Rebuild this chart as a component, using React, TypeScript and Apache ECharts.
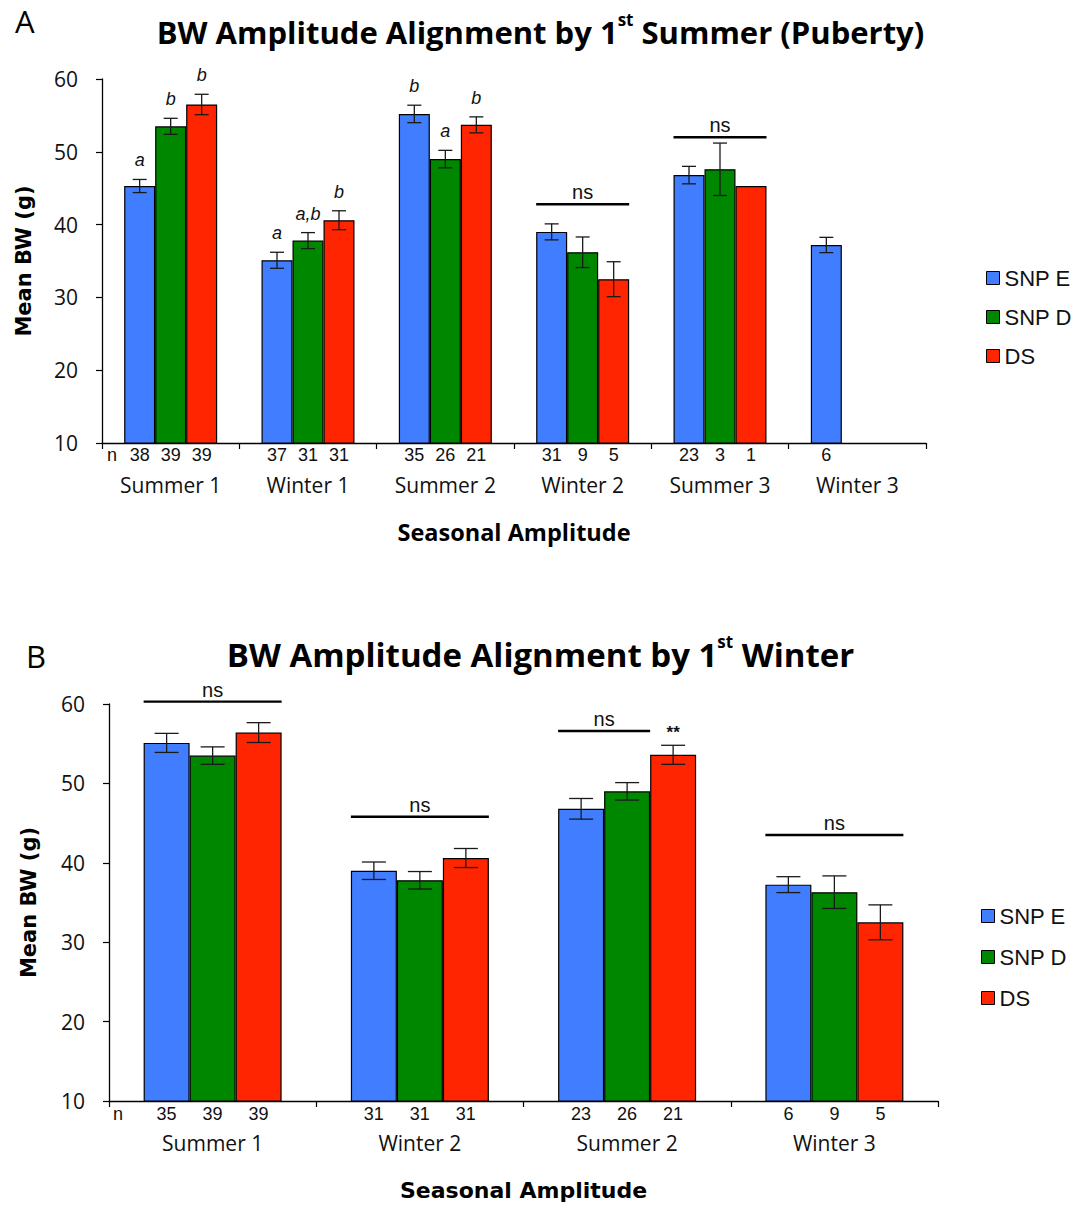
import React, { useEffect, useRef } from "react";
import * as echarts from "echarts";

// ---------- shared ----------
const GROUPS = ["SNP E", "SNP D", "DS"];
const GROUP_COLORS = ["#407eff", "#008700", "#ff2500"];
const Y_MIN = 10;
const Y_MAX = 60;
const Y_STEP = 10;
const X_AXIS_TITLE = "Seasonal Amplitude";
const Y_AXIS_TITLE = "Mean BW (g)";

// ---------- panel A ----------
const A_CATEGORIES = ["Summer 1", "Winter 1", "Summer 2", "Winter 2", "Summer 3", "Winter 3"];
const A_SNP_E = [45.3, 35.1, 55.2, 39.0, 46.8, 37.2];
const A_SNP_D = [53.5, 37.8, 49.0, 36.2, 47.6, null];
const A_DS = [56.5, 40.6, 53.7, 32.5, 45.3, null];
const A_SNP_E_SEM = [0.9, 1.1, 1.2, 1.1, 1.2, 1.05];
const A_SNP_D_SEM = [1.1, 1.1, 1.2, 2.1, 3.6, null];
const A_DS_SEM = [1.4, 1.3, 1.1, 2.4, null, null];
const A_SNP_E_N = [38, 37, 35, 31, 23, 6];
const A_SNP_D_N = [39, 31, 26, 9, 3, null];
const A_DS_N = [39, 31, 21, 5, 1, null];
const A_SNP_E_SIG = ["a", "a", "b", "", "", ""];
const A_SNP_D_SIG = ["b", "a,b", "a", "", "", ""];
const A_DS_SIG = ["b", "b", "b", "", "", ""];
const A_NS_CATEGORY = [3, 4];
const A_NS_LEVEL = [42.8, 52.0];
const A_NS_FIRST_BAR = [0, 0];
const A_NS_LAST_BAR = [2, 2];

// ---------- panel B ----------
const B_CATEGORIES = ["Summer 1", "Winter 2", "Summer 2", "Winter 3"];
const B_SNP_E = [55.1, 39.0, 46.8, 37.25];
const B_SNP_D = [53.5, 37.8, 49.0, 36.3];
const B_DS = [56.4, 40.6, 53.6, 32.5];
const B_SNP_E_SEM = [1.2, 1.1, 1.3, 1.0];
const B_SNP_D_SEM = [1.1, 1.1, 1.1, 2.05];
const B_DS_SEM = [1.25, 1.2, 1.2, 2.2];
const B_SNP_E_N = [35, 31, 23, 6];
const B_SNP_D_N = [39, 31, 26, 9];
const B_DS_N = [39, 31, 21, 5];
const B_SNP_E_SIG = ["", "", "", ""];
const B_SNP_D_SIG = ["", "", "", ""];
const B_DS_SIG = ["", "", "**", ""];
const B_NS_CATEGORY = [0, 1, 2, 3];
const B_NS_LEVEL = [60.3, 45.8, 56.6, 43.5];
const B_NS_FIRST_BAR = [0, 0, 0, 0];
const B_NS_LAST_BAR = [2, 2, 1, 2];

const INK = "#111";
const ARIAL = "'Liberation Sans', Arial, sans-serif";
const CAL = "'Open Sans', sans-serif";
const BOLD_SANS = "'DejaVu Sans', sans-serif";

type Panel = {
  grid: number;
  values: (number | null)[][];
  sems: (number | null)[][];
  ns: (number | null)[][];
  sigs: string[][];
  nsCat: number[];
  nsLevel: number[];
  nsFirst: number[];
  nsLast: number[];
  barWidth: number;
  capHalf: number;
  nOffset: number;
  nLabelInset: number;
};

function panelSeries(p: Panel): any[] {
  const out: any[] = [];
  const bw = p.barWidth;
  for (let k = 0; k < 3; k++) {
    out.push({
      type: "bar",
      name: GROUPS[k],
      xAxisIndex: p.grid,
      yAxisIndex: p.grid,
      data: p.values[k].map((v) => (v == null ? "-" : v)),
      barWidth: bw,
      barGap: "0%",
      itemStyle: { color: GROUP_COLORS[k], borderColor: "#000", borderWidth: 1.2 },
      emphasis: { disabled: true },
      z: 2,
    });
  }
  for (let k = 0; k < 3; k++) {
    const idx: number[] = [];
    p.values[k].forEach((v, i) => {
      if (v != null) idx.push(i);
    });
    const data = idx.map((i) => [i, p.values[k][i], p.sems[k][i] == null ? 0 : p.sems[k][i]]);
    out.push({
      type: "custom",
      xAxisIndex: p.grid,
      yAxisIndex: p.grid,
      clip: false,
      z: 4,
      silent: true,
      data,
      renderItem: (params: any, api: any) => {
        const i = api.value(0);
        const v = api.value(1);
        const e = api.value(2);
        const c = api.coord([i, v]);
        const x = c[0] + (k - 1) * bw;
        const axisY = api.coord([i, Y_MIN])[1];
        const children: any[] = [];
        let topY = c[1];
        if (e > 0) {
          const yHi = api.coord([i, v + e])[1];
          const yLo = api.coord([i, v - e])[1];
          topY = yHi;
          const ls = { stroke: "#1a1a1a", lineWidth: 1.3 };
          children.push({ type: "line", shape: { x1: x, y1: yHi, x2: x, y2: yLo }, style: ls });
          children.push({ type: "line", shape: { x1: x - p.capHalf, y1: yHi, x2: x + p.capHalf, y2: yHi }, style: ls });
          children.push({ type: "line", shape: { x1: x - p.capHalf, y1: yLo, x2: x + p.capHalf, y2: yLo }, style: ls });
        }
        const di = idx[params.dataIndex];
        const sig = p.sigs[k][di];
        if (sig) {
          const star = sig.indexOf("*") >= 0;
          children.push({
            type: "text",
            x,
            y: topY - (star ? 4 : 10),
            style: {
              text: sig,
              fill: INK,
              fontFamily: ARIAL,
              fontSize: star ? 17 : 18,
              fontStyle: star ? "normal" : "italic",
              fontWeight: star ? "bold" : "normal",
              align: "center",
              verticalAlign: "bottom",
            },
          });
        }
        const n = p.ns[k][di];
        if (n != null) {
          children.push({
            type: "text",
            x,
            y: axisY + p.nOffset,
            style: { text: String(n), fill: INK, fontFamily: ARIAL, fontSize: 18, align: "center", verticalAlign: "middle" },
          });
        }
        if (k === 0 && params.dataIndex === 0) {
          const catW = api.size([1, 0])[0];
          children.push({
            type: "text",
            x: c[0] - catW / 2 + p.nLabelInset,
            y: axisY + p.nOffset,
            style: { text: "n", fill: INK, fontFamily: ARIAL, fontSize: 18, align: "center", verticalAlign: "middle" },
          });
        }
        return { type: "group", children };
      },
    });
  }
  out.push({
    type: "custom",
    xAxisIndex: p.grid,
    yAxisIndex: p.grid,
    clip: false,
    z: 4,
    silent: true,
    data: p.nsCat.map((c, j) => [c, p.nsLevel[j], p.nsFirst[j], p.nsLast[j]]),
    renderItem: (_params: any, api: any) => {
      const c = api.coord([api.value(0), api.value(1)]);
      const x0 = c[0] + (api.value(2) - 1.5) * bw;
      const x1 = c[0] + (api.value(3) - 0.5) * bw;
      return {
        type: "group",
        children: [
          { type: "line", shape: { x1: x0, y1: c[1], x2: x1, y2: c[1] }, style: { stroke: "#000", lineWidth: 2.4 } },
          {
            type: "text",
            x: (x0 + x1) / 2,
            y: c[1] - 12,
            style: { text: "ns", fill: INK, fontFamily: ARIAL, fontSize: 20, align: "center", verticalAlign: "middle" },
          },
        ],
      };
    },
  });
  return out;
}

function xAxisFor(grid: number, cats: string[], nameFont: any, nameGap: number) {
  return {
    type: "category",
    gridIndex: grid,
    data: cats,
    axisLine: { show: true, lineStyle: { color: "#000", width: 1.3 } },
    axisTick: { show: true, length: 6, lineStyle: { color: "#000", width: 1.2 } },
    axisLabel: { margin: 31, fontFamily: CAL, fontSize: 21, color: INK },
    splitLine: { show: false },
    name: X_AXIS_TITLE,
    nameLocation: "middle",
    nameGap,
    nameTextStyle: { color: "#000", ...nameFont },
  };
}

function yAxisFor(grid: number, nameGap: number) {
  return {
    type: "value",
    gridIndex: grid,
    min: Y_MIN,
    max: Y_MAX,
    interval: Y_STEP,
    axisLine: { show: true, lineStyle: { color: "#000", width: 1.3 } },
    axisTick: { show: true, length: 6, lineStyle: { color: "#000", width: 1.2 } },
    axisLabel: { margin: 24, fontFamily: CAL, fontSize: 21, color: INK },
    splitLine: { show: false },
    name: Y_AXIS_TITLE,
    nameLocation: "middle",
    nameRotate: 90,
    nameGap,
    nameTextStyle: { color: "#000", fontFamily: BOLD_SANS, fontWeight: "bold", fontSize: 21 },
  };
}

function titleRich(size: number) {
  return {
    m: { fontFamily: CAL, fontWeight: "bold", fontSize: size, lineHeight: 42, color: "#000" },
    s: { fontFamily: CAL, fontWeight: "bold", fontSize: 17, lineHeight: 24, color: "#000", verticalAlign: "top" },
  };
}

export default function App() {
  const ref = useRef<HTMLDivElement>(null);
  useEffect(() => {
    document.body.style.margin = "0";
    if (!ref.current) return;
    const chart = echarts.init(ref.current, null, { renderer: "svg" });
    const legendCommon = {
      orient: "vertical",
      icon: "rect",
      itemWidth: 13,
      itemHeight: 13,
      selectedMode: false,
      data: GROUPS,
      textStyle: { fontFamily: ARIAL, fontSize: 22, color: INK },
      itemStyle: { borderColor: "#000", borderWidth: 1 },
    };
    const option: any = {
      animation: false,
      backgroundColor: "#fff",
      title: [
        { text: "A", left: 10, top: 0, textStyle: { fontFamily: CAL, fontWeight: "normal", fontSize: 31, color: "#000" } },
        {
          text: "{m|BW Amplitude Alignment by 1}{s|st}{m| Summer (Puberty)}",
          left: "center",
          top: 6,
          textStyle: { rich: titleRich(31) },
        },
        { text: "B", left: 21, top: 635, textStyle: { fontFamily: CAL, fontWeight: "normal", fontSize: 31, color: "#000" } },
        {
          text: "{m|BW Amplitude Alignment by 1}{s|st}{m| Winter}",
          left: "center",
          top: 628,
          textStyle: { rich: titleRich(33) },
        },
      ],
      legend: [
        { ...legendCommon, left: 981, top: 262, itemGap: 17 },
        { ...legendCommon, left: 976, top: 900, itemGap: 19 },
      ],
      grid: [
        { left: 102, top: 79, width: 824, height: 364, containLabel: false, outerBoundsMode: "none" },
        { left: 109, top: 704, width: 829, height: 397, containLabel: false, outerBoundsMode: "none" },
      ],
      xAxis: [
        xAxisFor(0, A_CATEGORIES, { fontFamily: CAL, fontWeight: "bold", fontSize: 23.5 }, 77),
        xAxisFor(1, B_CATEGORIES, { fontFamily: BOLD_SANS, fontWeight: "bold", fontSize: 22 }, 78),
      ],
      yAxis: [yAxisFor(0, 68), yAxisFor(1, 70)],
      series: [
        ...panelSeries({
          grid: 0,
          values: [A_SNP_E, A_SNP_D, A_DS],
          sems: [A_SNP_E_SEM, A_SNP_D_SEM, A_DS_SEM],
          ns: [A_SNP_E_N, A_SNP_D_N, A_DS_N],
          sigs: [A_SNP_E_SIG, A_SNP_D_SIG, A_DS_SIG],
          nsCat: A_NS_CATEGORY,
          nsLevel: A_NS_LEVEL,
          nsFirst: A_NS_FIRST_BAR,
          nsLast: A_NS_LAST_BAR,
          barWidth: 31,
          capHalf: 7,
          nOffset: 12,
          nLabelInset: 10,
        }),
        ...panelSeries({
          grid: 1,
          values: [B_SNP_E, B_SNP_D, B_DS],
          sems: [B_SNP_E_SEM, B_SNP_D_SEM, B_DS_SEM],
          ns: [B_SNP_E_N, B_SNP_D_N, B_DS_N],
          sigs: [B_SNP_E_SIG, B_SNP_D_SIG, B_DS_SIG],
          nsCat: B_NS_CATEGORY,
          nsLevel: B_NS_LEVEL,
          nsFirst: B_NS_FIRST_BAR,
          nsLast: B_NS_LAST_BAR,
          barWidth: 46,
          capHalf: 12,
          nOffset: 13,
          nLabelInset: 9,
        }),
      ],
    };
    chart.setOption(option);
    return () => chart.dispose();
  }, []);
  return <div ref={ref} style={{ width: 1081, height: 1207 }} />;
}
